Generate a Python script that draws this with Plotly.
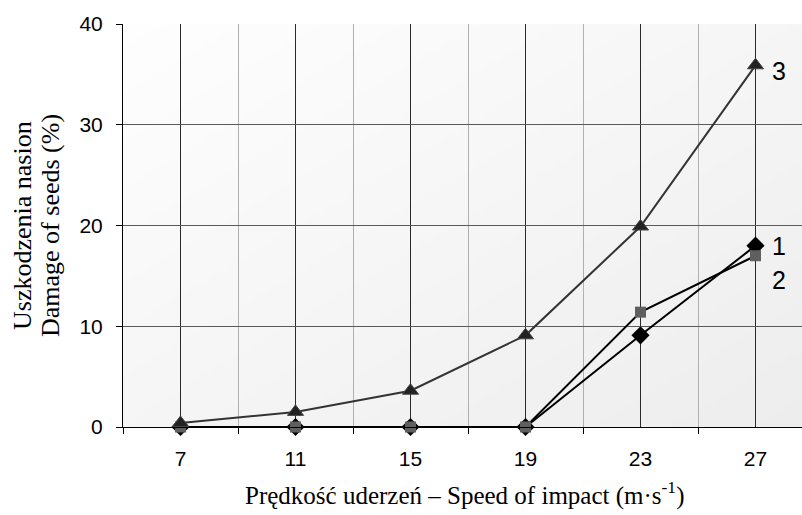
import base64
import struct
import zlib

import plotly.graph_objects as go

# ---- data ----
speeds = ["7", "11", "15", "19", "23", "27"]
series1 = [0, 0, 0, 0, 9.1, 18.0]
series2 = [0, 0, 0, 0, 11.4, 17.0]
series3 = [0.4, 1.5, 3.6, 9.1, 19.9, 35.9]
series_labels = ["1", "2", "3"]
y_ticks = [0, 10, 20, 30, 40]
y_title_lines = ["Uszkodzenia nasion", "Damage of seeds (%)"]
x_title = "Prędkość uderzeń – Speed of impact (m·s<sup>-1</sup>)"

x_idx = list(range(len(speeds)))

SERIF = "Liberation Serif"
SANS = "Liberation Sans"


def gradient_png(w=120, h=80):
    rows = []
    for j in range(h):
        v = j / (h - 1)
        row = bytearray([0])
        for i in range(w):
            u = i / (w - 1)
            g = int(round(254 - 17 * (0.5 * u + 0.5 * v)))
            row += bytes([g, g, g])
        rows.append(bytes(row))
    raw = b"".join(rows)

    def chunk(tag, data):
        c = struct.pack(">I", len(data)) + tag + data
        return c + struct.pack(">I", zlib.crc32(tag + data) & 0xFFFFFFFF)

    png = b"\x89PNG\r\n\x1a\n"
    png += chunk(b"IHDR", struct.pack(">IIBBBBB", w, h, 8, 2, 0, 0, 0))
    png += chunk(b"IDAT", zlib.compress(raw, 9))
    png += chunk(b"IEND", b"")
    return "data:image/png;base64," + base64.b64encode(png).decode()


fig = go.Figure()

fig.add_trace(go.Scatter(
    x=x_idx, y=series1, mode="lines+markers", cliponaxis=False,
    line=dict(color="#000000", width=2),
    marker=dict(symbol="diamond", size=14, color="#000000"),
    showlegend=False))
fig.add_trace(go.Scatter(
    x=x_idx, y=series2, mode="lines+markers", cliponaxis=False,
    line=dict(color="#000000", width=2),
    marker=dict(symbol="square", size=11, color="#5f5f5f"),
    showlegend=False))
fig.add_trace(go.Scatter(
    x=x_idx, y=series3, mode="lines+markers", cliponaxis=False,
    line=dict(color="#333333", width=2),
    marker=dict(symbol="triangle-up", size=14, color="#222222",
                line=dict(color="#444444", width=1)),
    showlegend=False))

# series labels next to last points
label_shift = [0, -24, -6]
for lab, ser, dy in zip(series_labels, [series1, series2, series3], label_shift):
    fig.add_annotation(x=x_idx[-1], y=ser[-1], text=lab, showarrow=False,
                       xanchor="left", yanchor="middle", xshift=14, yshift=dy,
                       font=dict(family=SANS, size=25, color="#000"))

L, T, B = 123, 24, 88
W, H = 802, 515
pw = W - L
ph = H - T - B
spacing = 115.0
x_right = -0.5 + pw / spacing

fig.update_layout(
    width=W, height=H,
    margin=dict(l=L, r=0, t=T, b=B),
    paper_bgcolor="white",
    plot_bgcolor="rgba(0,0,0,0)",
    font=dict(family=SANS, size=21, color="#000"),
    images=[dict(source=gradient_png(), xref="paper", yref="paper",
                 x=0, y=1, sizex=1, sizey=1, sizing="stretch",
                 xanchor="left", yanchor="top", layer="below")],
    xaxis=dict(
        range=[-0.5, x_right], tickmode="array", tickvals=x_idx, ticktext=speeds,
        showgrid=True, gridcolor="#2a2a2a", gridwidth=1,
        ticks="", showline=True, linecolor="#000", linewidth=1,
        zeroline=False, ticklabelstandoff=13,
        minor=dict(tick0=0.5, dtick=1, showgrid=True, gridcolor="#b0b0b0",
                   gridwidth=1, ticks="outside", ticklen=6, tickcolor="#000"),
        tickfont=dict(family=SANS, size=21),
    ),
    yaxis=dict(
        range=[0, 40], tickmode="array", tickvals=y_ticks,
        showgrid=True, gridcolor="#5a5a5a", gridwidth=1,
        ticks="outside", ticklen=6, tickcolor="#000",
        showline=True, linecolor="#000", linewidth=1, zeroline=False,
        ticklabelstandoff=9, tickfont=dict(family=SANS, size=21),
    ),
)

for line_text, px_center in zip(y_title_lines, [22, 50]):
    fig.add_annotation(
        xref="paper", yref="paper", x=-(L - px_center) / pw, y=(427 - 226) / ph,
        text=line_text, showarrow=False,
        textangle=-90, xanchor="center", yanchor="middle",
        font=dict(family=SERIF, size=26, color="#000"))

fig.add_annotation(
    xref="paper", yref="paper", x=(464 - L) / pw, y=-(494 - (H - B)) / ph,
    text=x_title, showarrow=False,
    xanchor="center", yanchor="middle",
    font=dict(family=SERIF, size=25, color="#000"))

fig.write_html("out.html")
